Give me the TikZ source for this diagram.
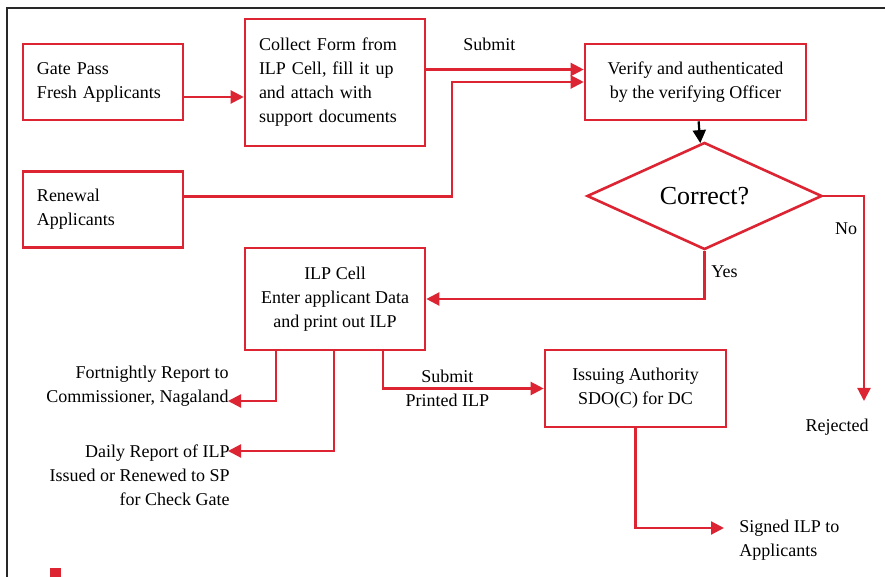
\documentclass[tikz,border=0pt]{standalone}
\usepackage{fontspec}
\setmainfont{Liberation Serif}
\usetikzlibrary{arrows.meta,shapes.geometric}
\definecolor{ilpred}{RGB}{220,36,50}
\definecolor{framegray}{RGB}{40,40,40}
\begin{document}
\begin{tikzpicture}[x=.5pt, y=-.5pt,
  font=\fontsize{9}{12}\selectfont,
  box/.style={draw=ilpred, line width=1.3pt, inner xsep=7pt, inner ysep=3pt},
  leftbox/.style={box, align=left, text width=66pt, minimum height=38pt},
  midbox/.style={box, align=center, minimum width=90pt},
  flow/.style={draw=ilpred, line width=1.1pt, -{Triangle[length=6.5pt, width=6.5pt]}},
  blackflow/.style={draw=black, line width=1.1pt, -{Triangle[length=6.5pt, width=6.5pt]}},
  note/.style={inner sep=0pt}]
\useasboundingbox (0,0) rectangle (885,577);
\draw[framegray, line width=1pt] (885,8) -- (7,8) -- (7,577);
\fill[ilpred] (50,568) rectangle (61,577);
% boxes
\node[leftbox] (gate) at (103,82) {Gate Pass\\Fresh Applicants};
\node[leftbox] (renewal) at (103,209.5) {Renewal\\Applicants};
\node[leftbox, text width=76pt, minimum height=63.5pt] (collect) at (335,82.5) {Collect Form from\\ILP Cell, fill it up\\and attach with\\support documents};
\node[midbox, minimum width=110.5pt, minimum height=38pt] (verify) at (695.5,82) {Verify and authenticated\\by the verifying Officer};
\node[draw=ilpred, line width=1.3pt, shape=diamond, inner sep=0pt, minimum width=117.5pt, minimum height=50pt, font=\fontsize{13}{15}\selectfont] (check) at (704.5,196) {Correct?};
\node[midbox, minimum height=51pt] (ilp) at (335,299) {ILP Cell\\Enter applicant Data\\and print out ILP};
\node[midbox, minimum width=90.5pt, minimum height=38.5pt] (issue) at (635.5,388.5) {Issuing Authority\\SDO(C) for DC};
% free texts
\node[note, align=right, anchor=east] (fort) at (229,386.5) {Fortnightly Report to\\Commissioner, Nagaland};
\node[note, align=right, anchor=east] (daily) at (230,475) {Daily Report of ILP\\Issued or Renewed to SP\\for Check Gate};
\node[note, align=left, anchor=west] (signed) at (739,540) {Signed ILP to\\Applicants};
\node[note] (rejected) at (837,427) {Rejected};
\coordinate (fortin) at (228,401);
\coordinate (dailyin) at (228,451);
\coordinate (signin) at (724,528);
\coordinate (rejin) at (864,401);
% connectors
\draw[flow] ([yshift=-7.5pt]gate.east) -- ([yshift=-7.5pt]gate.east -| collect.west);
\draw[flow] ([yshift=6.5pt]collect.east) -- ([yshift=6.5pt]collect.east -| verify.west)
  node[note, pos=.4, yshift=12.5pt] (submit) {Submit};
\draw[flow] ([yshift=6.5pt]renewal.east) -| ([xshift=-66pt]verify.west) -- (verify.west);
\draw[blackflow] (verify) -- (check);
\draw[flow] (check.east) -| (rejin) node[note, pos=.58, xshift=-9pt] (no) {No};
\draw[flow] (check.south) |- (ilp.east) node[note, pos=.22, xshift=10pt] (yes) {Yes};
\draw[flow] ([xshift=-29.5pt]ilp.south) |- (fortin);
\draw[flow] ([xshift=-.5pt]ilp.south) |- (dailyin);
\draw[flow] ([xshift=24pt]ilp.south) |- (issue.west)
  node[note, pos=.7, align=center] (printed) {Submit\\Printed ILP};
\draw[flow] (issue.south) |- (signin);
\end{tikzpicture}
\end{document}
